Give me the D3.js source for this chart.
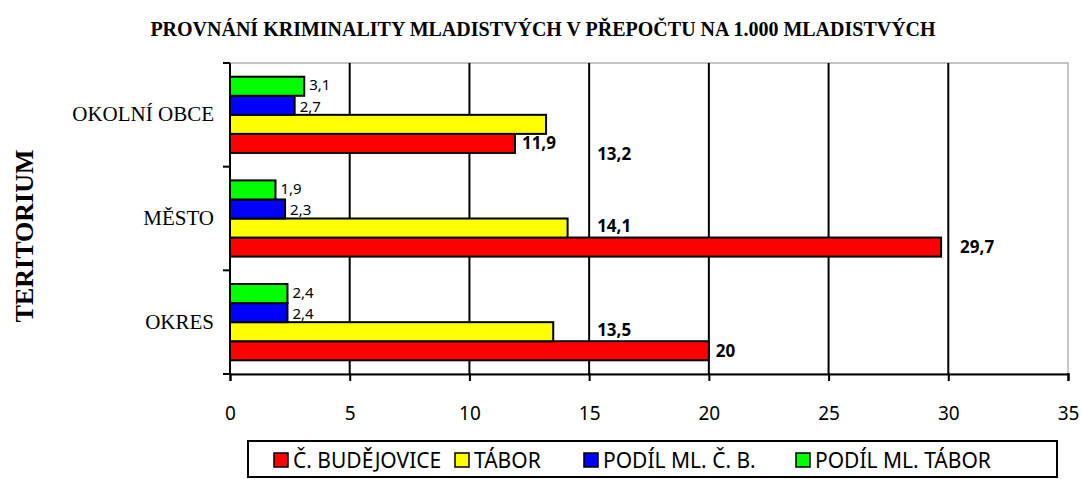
<!DOCTYPE html>
<html>
<head>
<meta charset="utf-8">
<script src="https://cdn.jsdelivr.net/npm/d3@7"></script>
<style>
  body { margin: 0; background: #fff; }
  svg { display: block; }
</style>
</head>
<body>
<div id="svg-area"></div>
<script>
// data
var categories = ["OKOLNÍ OBCE", "MĚSTO", "OKRES"];
var seriesNames = ["Č. BUDĚJOVICE", "TÁBOR", "PODÍL ML. Č. B.", "PODÍL ML. TÁBOR"];
var budejovice = [11.9, 29.7, 20];
var tabor = [13.2, 14.1, 13.5];
var podilCB = [2.7, 2.3, 2.4];
var podilTabor = [3.1, 1.9, 2.4];
var xTicks = [0, 5, 10, 15, 20, 25, 30, 35];

var seriesValues = [budejovice, tabor, podilCB, podilTabor];
var colors = ["#ff0000", "#ffff00", "#0000ff", "#00ff00"];

// svg container
var svgWidth = 1081, svgHeight = 479;
var margin = { top: 63, left: 230, right: 13, bottom: 105 };
var chartWidth = svgWidth - margin.left - margin.right;   // 838
var chartHeight = svgHeight - margin.top - margin.bottom; // 311

var svg = d3.select("#svg-area").append("svg")
  .attr("width", svgWidth)
  .attr("height", svgHeight);

var chartGroup = svg.append("g")
  .attr("transform", `translate(${margin.left}, ${margin.top})`);

// scales
var xScale = d3.scaleLinear().domain([0, 35]).range([0, chartWidth]);
var yScale = d3.scaleBand().domain(categories).range([0, chartHeight]);
// first series sits at the bottom of each group (Excel style)
var ySub = d3.scaleBand()
  .domain([3, 2, 1, 0])
  .range([0, yScale.bandwidth()])
  .paddingInner(0)
  .paddingOuter(0.72);

// plot frame (light grey top/right)
chartGroup.append("rect")
  .attr("x", 0).attr("y", 0)
  .attr("width", chartWidth).attr("height", chartHeight)
  .attr("fill", "none")
  .attr("stroke", "#b3b3b3")
  .attr("stroke-width", 1.5);

// vertical gridlines
chartGroup.append("g")
  .selectAll("line")
  .data(xTicks.slice(1, -1))
  .enter().append("line")
  .attr("x1", d => xScale(d)).attr("x2", d => xScale(d))
  .attr("y1", 0).attr("y2", chartHeight)
  .attr("stroke", "#000")
  .attr("stroke-width", 2);

// bars
var groups = chartGroup.selectAll(".cat")
  .data(categories)
  .enter().append("g")
  .attr("transform", d => `translate(0, ${yScale(d)})`);

groups.each(function(cat, ci) {
  var g = d3.select(this);
  seriesValues.forEach(function(vals, si) {
    g.append("rect")
      .attr("x", 0)
      .attr("y", ySub(si))
      .attr("width", xScale(vals[ci]))
      .attr("height", ySub.bandwidth())
      .attr("fill", colors[si])
      .attr("stroke", "#000")
      .attr("stroke-width", 2);
  });
});

// x axis
var xAxis = d3.axisBottom(xScale).tickValues(xTicks).tickSize(7).tickFormat(d3.format("d"));
var xg = chartGroup.append("g")
  .attr("transform", `translate(0, ${chartHeight})`)
  .call(xAxis);
xg.select(".domain").attr("stroke", "#000").attr("stroke-width", 2);
xg.selectAll(".tick line").attr("stroke", "#000").attr("stroke-width", 2).attr("y1", -1);
xg.selectAll(".tick text")
  .attr("y", 39)
  .attr("dy", "0.35em")
  .style("font-family", "'Noto Sans', sans-serif")
  .style("font-size", "19px")
  .attr("fill", "#000");

// y axis (ticks at group boundaries)
chartGroup.append("line")
  .attr("x1", 0).attr("x2", 0).attr("y1", 0).attr("y2", chartHeight)
  .attr("stroke", "#000").attr("stroke-width", 2);
chartGroup.append("g")
  .selectAll("line")
  .data(categories)
  .enter().append("line")
  .attr("x1", -7).attr("x2", 0)
  .attr("y1", d => yScale(d)).attr("y2", d => yScale(d))
  .attr("stroke", "#000").attr("stroke-width", 2);
chartGroup.append("line")
  .attr("x1", -7).attr("x2", 0).attr("y1", chartHeight).attr("y2", chartHeight)
  .attr("stroke", "#000").attr("stroke-width", 2);

chartGroup.append("g")
  .selectAll("text")
  .data(categories)
  .enter().append("text")
  .attr("x", -16)
  .attr("y", d => yScale(d) + yScale.bandwidth() / 2 - 1)
  .attr("dy", "0.35em")
  .attr("text-anchor", "end")
  .style("font-family", "'Liberation Serif', 'Times New Roman', serif")
  .style("font-size", "21px")
  .text(d => d);

// data labels
var fmt = v => String(v).replace(".", ",");
groups.each(function(cat, ci) {
  var g = d3.select(this);
  seriesValues.forEach(function(vals, si) {
    var v = vals[ci];
    var x = xScale(v) + (si < 2 ? 7 : 5);
    var y = ySub(si) + ySub.bandwidth() / 2;
    if (si === 1) { x = xScale(15) + 8; y -= 2; }       // yellow labels aligned past the 15 gridline
    if (si === 1 && ci === 0) { y += 32; }              // moved down in the original
    if (si === 0 && ci === 1) { x += 12; }
    if (si === 3) { y -= 1; }
    if (si === 2) { y += 1; }
    g.append("text")
      .attr("x", x)
      .attr("y", y)
      .attr("dy", "0.35em")
      .style("font-family", "'Noto Sans', sans-serif")
      .style("font-size", si < 2 ? "17px" : "15px")
      .style("font-weight", si < 2 ? "bold" : "normal")
      .text(fmt(v));
  });
});

// title
svg.append("text")
  .attr("x", 543)
  .attr("y", 29)
  .attr("dy", "0.35em")
  .attr("text-anchor", "middle")
  .style("font-family", "'Liberation Serif', 'Times New Roman', serif")
  .style("font-size", "20px")
  .style("font-weight", "bold")
  .text("PROVNÁNÍ KRIMINALITY MLADISTVÝCH V PŘEPOČTU NA 1.000 MLADISTVÝCH");

// y axis title
svg.append("text")
  .attr("transform", "translate(24, 236) rotate(-90)")
  .attr("dy", "0.35em")
  .attr("text-anchor", "middle")
  .style("font-family", "'Liberation Serif', 'Times New Roman', serif")
  .style("font-size", "26px")
  .style("font-weight", "bold")
  .text("TERITORIUM");

// legend
var legendX = [274, 455, 584, 796];
var legend = svg.append("g");
legend.append("rect")
  .attr("x", 248).attr("y", 441)
  .attr("width", 809).attr("height", 36)
  .attr("fill", "#fff")
  .attr("stroke", "#000")
  .attr("stroke-width", 2);

var items = legend.selectAll(".item")
  .data(seriesNames)
  .enter().append("g")
  .attr("transform", (d, i) => `translate(${legendX[i]}, 461)`);
items.append("rect")
  .attr("x", 0).attr("y", -8)
  .attr("width", 14).attr("height", 14)
  .attr("fill", (d, i) => colors[i])
  .attr("stroke", "#000")
  .attr("stroke-width", 1.5);
items.append("text")
  .attr("x", 19)
  .attr("y", 0)
  .attr("dy", "0.35em")
  .style("font-family", "'Noto Sans', sans-serif")
  .style("font-size", "21px")
  .text(d => d);
</script>
</body>
</html>
